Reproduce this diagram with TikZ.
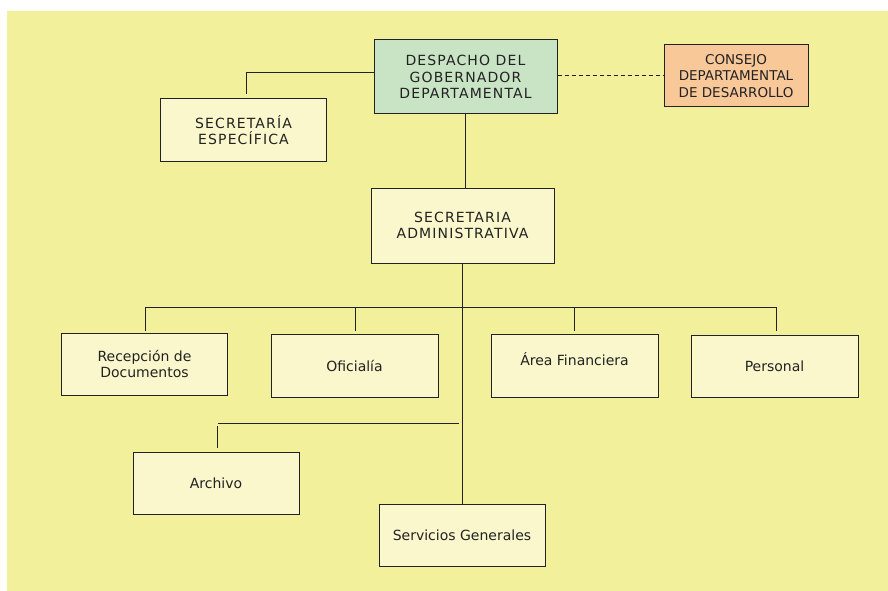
\documentclass[tikz,border=0pt]{standalone}
\usepackage{fontspec}
\setmainfont{DejaVu Sans}
\newfontfamily\capsfont[LetterSpace=8]{DejaVu Sans}
\definecolor{fondo}{HTML}{F3F09B}
\definecolor{caja}{HTML}{FAF7CC}
\definecolor{verde}{HTML}{C9E4C5}
\definecolor{naranja}{HTML}{F9C899}
\definecolor{trazo}{HTML}{222222}

\begin{document}
\begin{tikzpicture}[x=1pt,y=-1pt,
  unidad/.style={draw=trazo,line width=1pt,fill=caja,align=center,
    text=trazo,font=\fontsize{14}{16.5}\selectfont,inner sep=0pt,
    minimum width=166,minimum height=62},
  linea/.style={draw=trazo,line width=1pt}]
\useasboundingbox (0,0) rectangle (888,591);
\fill[fondo] (7,11) rectangle (888,591);
% cabecera
\node[unidad,fill=verde,minimum width=183,minimum height=74] (desp) at (465.5,77)
  {\capsfont DESPACHO DEL\\\capsfont GOBERNADOR\\\capsfont DEPARTAMENTAL};
\node[unidad,fill=naranja,minimum width=144,minimum height=62,
  font=\fontsize{13.5}{16.5}\selectfont] (cons) at (736,76)
  {CONSEJO\\DEPARTAMENTAL\\DE DESARROLLO};
\node[unidad] (secesp) at (243.5,130)
  {\capsfont SECRETARÍA\\\capsfont ESPECÍFICA};
\node[unidad,minimum width=183,minimum height=75] (secadm) at (462.5,225.5)
  {\capsfont SECRETARIA\\\capsfont ADMINISTRATIVA};
% dependencias
\node[unidad] (recep) at (144.5,364) {Recepción de\\Documentos};
\node[unidad,minimum width=167,minimum height=63] (ofic) at (354.5,365.5) {Oficialía};
\node[unidad,minimum width=167,minimum height=63] (area) at (574.5,365.5)
  {\raisebox{6pt}[\height][\depth]{Área Financiera}};
\node[unidad,minimum width=167] (pers) at (774.5,366) {Personal};
\node[unidad] (arch) at (216,483) {Archivo};
\node[unidad] (serv) at (462,535) {Servicios Generales};
\coordinate (bus) at (463,307.5);
\coordinate (busarch) at (458.5,423);
% conectores
\draw[linea] ([yshift=4]desp.west) -| ([xshift=2.5,yshift=4]secesp.north);
\draw[linea,dash pattern=on 4pt off 3pt] (cons.west -| desp.east) -- (cons.west);
\draw[linea] (desp.south) -- (desp.south |- secadm.north);
\draw[linea] (secadm.south) -- (secadm.south |- serv.north);
\draw[linea] ([xshift=1,yshift=2]recep.north) |- (bus) -| ([xshift=2,yshift=4]pers.north);
\draw[linea] ([xshift=0.5,yshift=3]ofic.north) -- ([xshift=0.5]ofic.north |- bus);
\draw[linea] ([xshift=-0.5,yshift=3]area.north) -- ([xshift=-0.5]area.north |- bus);
\draw[linea] (busarch) -- ([xshift=1.5]arch.north |- busarch);
\draw[linea] ([xshift=1,yshift=4]arch.north) -- ++(0,-22);
\end{tikzpicture}
\end{document}
